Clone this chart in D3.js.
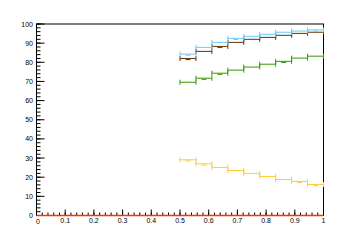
<!DOCTYPE html>
<html>
<head>
<meta charset="utf-8">
<script src="https://cdn.jsdelivr.net/npm/d3@7"></script>
<style>
body { margin: 0; background: #fff; }
text { font-family: "Liberation Sans", Arial, sans-serif; font-size: 7px; fill: #000; }
</style>
</head>
<body>
<div id="chart"></div>
<script>
// bins from 0.5 to 1.0
const binEdges = [0.5, 0.5556, 0.6111, 0.6667, 0.7222, 0.7778, 0.8333, 0.8889, 0.9444, 1.0];

const blueVals   = [84.3, 87.8, 90.4, 92.5, 93.6, 94.6, 95.7, 96.3, 96.9];
const brownVals  = [82.0, 85.7, 88.3, 90.4, 92.0, 93.0, 94.1, 95.1, 95.7];
const greenVals  = [69.6, 71.7, 74.3, 75.9, 77.5, 79.0, 80.5, 82.2, 83.2];
const yellowVals = [29.1, 27.0, 25.1, 23.5, 22.0, 20.4, 18.8, 17.8, 16.2];

const blueErr   = [0.6, 0, 0, 0.6, 0, 0, 0, 0, 0.6];
const brownErr  = [0.6, 0, 0.6, 0, 0, 0, 0, 0, 0];
const greenErr  = [0, 0.6, 0.6, 0, 0, 0, 0.6, 0, 0];
const yellowErr = [0.6, 0.6, 0, 0, 0, 0, 0, 0.6, 0.6];

const zeroLine = [0, 0];
const xTicks = [0, 0.1, 0.2, 0.3, 0.4, 0.5, 0.6, 0.7, 0.8, 0.9, 1];
const yTicks = [0, 10, 20, 30, 40, 50, 60, 70, 80, 90, 100];

const w = 360, h = 240;
const padL = 36.5, padR = 323.5, padT = 24, padB = 215.5;

const svg = d3.select("#chart").append("svg")
  .attr("width", w).attr("height", h);

const x = d3.scaleLinear().domain([0, 1]).range([padL, padR]);
const y = d3.scaleLinear().domain([0, 100]).range([padB, padT]);

// frame
svg.append("rect")
  .attr("x", padL).attr("y", padT)
  .attr("width", padR - padL).attr("height", padB - padT)
  .attr("fill", "none").attr("stroke", "#000").attr("stroke-width", 1);

// x axis ticks
const xMinor = d3.range(0, 1.0001, 0.02);
svg.selectAll(".xminor").data(xMinor).enter().append("line")
  .attr("x1", d => x(d)).attr("x2", d => x(d))
  .attr("y1", padB).attr("y2", padB - 3)
  .attr("stroke", "#000");
svg.selectAll(".xmajor").data(xTicks).enter().append("line")
  .attr("x1", d => x(d)).attr("x2", d => x(d))
  .attr("y1", padB).attr("y2", padB - 6)
  .attr("stroke", "#000");
svg.selectAll(".xlab").data(xTicks).enter().append("text")
  .attr("x", (d, i) => i == 0 ? x(d) + 1.5 : x(d))
  .attr("y", (d, i) => i == 0 ? 224 : 223)
  .attr("text-anchor", "middle")
  .text(d => d3.format("")(d));

// y axis ticks
const yMinor = d3.range(0, 100.001, 2);
svg.selectAll(".yminor").data(yMinor).enter().append("line")
  .attr("x1", padL).attr("x2", padL + 4)
  .attr("y1", d => y(d)).attr("y2", d => y(d))
  .attr("stroke", "#000");
svg.selectAll(".ymajor").data(yTicks).enter().append("line")
  .attr("x1", padL).attr("x2", padL + 8)
  .attr("y1", d => y(d)).attr("y2", d => y(d))
  .attr("stroke", "#000");
svg.selectAll(".ylab").data(yTicks).enter().append("text")
  .attr("x", 33)
  .attr("y", d => y(d) + 2.5)
  .attr("text-anchor", "end")
  .text(d => d);

// histogram with error bars
function drawHist(vals, errs, color) {
  const g = svg.append("g").attr("stroke", color).attr("stroke-width", 1).attr("fill", "none");
  vals.forEach((v, i) => {
    const x0 = x(binEdges[i]), x1 = x(binEdges[i + 1]);
    const yv = y(v);
    g.append("line").attr("x1", x0).attr("x2", x1).attr("y1", yv).attr("y2", yv);
    g.append("line").attr("x1", x0).attr("x2", x0).attr("y1", yv - 2.5).attr("y2", yv + 2.5);
    g.append("line").attr("x1", x1).attr("x2", x1).attr("y1", yv - 2.5).attr("y2", yv + 2.5);
    if (errs[i] > 0) {
      const xc = (x0 + x1) / 2;
      g.append("line").attr("x1", xc - 2.5).attr("x2", xc + 2.5)
        .attr("y1", y(v - errs[i])).attr("y2", y(v - errs[i]));
    }
  });
}

drawHist(brownVals, brownErr, "#663300");
drawHist(blueVals, blueErr, "#66ccff");
drawHist(greenVals, greenErr, "#339900");
drawHist(yellowVals, yellowErr, "#ffcc33");

// zero histogram over the full range
svg.append("line")
  .attr("x1", x(0)).attr("x2", x(1))
  .attr("y1", y(zeroLine[0])).attr("y2", y(zeroLine[1]))
  .attr("stroke", "#ff3300").attr("stroke-width", 1.5);
</script>
</body>
</html>
